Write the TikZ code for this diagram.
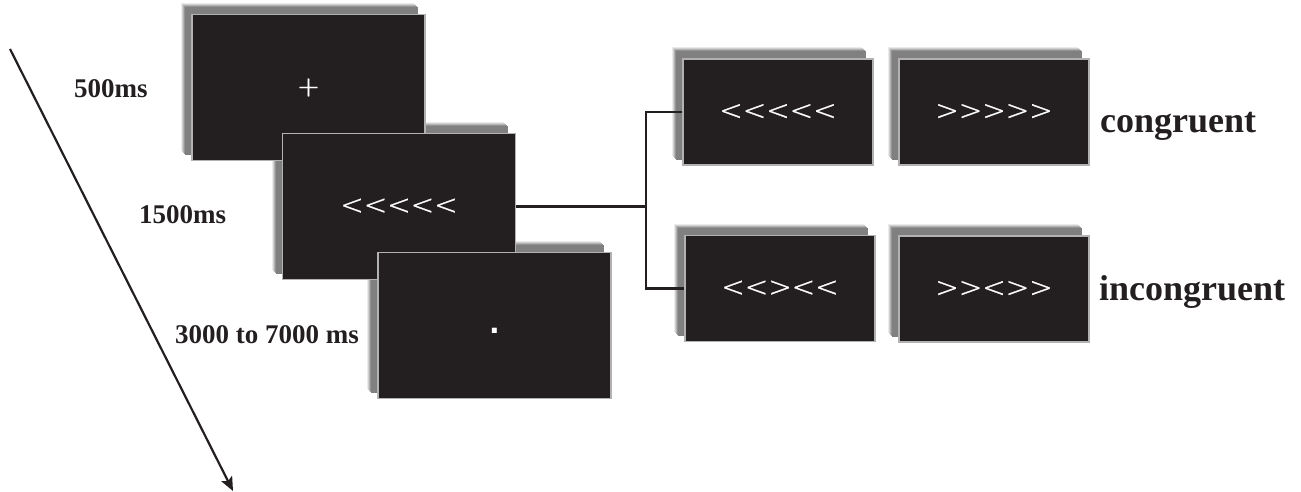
\documentclass[tikz,border=0pt]{standalone}
\usepackage{fontspec}
\setmainfont{Liberation Serif}
\newfontfamily\chev{DejaVu Sans ExtraLight}[FakeBold=1]
\newfontfamily\chevb{DejaVu Sans}
\usetikzlibrary{arrows.meta,backgrounds}
\definecolor{scr}{HTML}{231F20}
\definecolor{ink}{HTML}{231F20}
\begin{document}
\begin{tikzpicture}[x=1pt,y=-1pt,
  screen/.style={rectangle, fill=scr, draw=gray!60, line width=1.8pt, inner sep=0pt,
    text=white, font=\chev\fontsize{28}{30}\selectfont},
  bigscreen/.style={screen, minimum width=233pt, minimum height=146pt},
  smallscreen/.style={screen, minimum width=190pt, minimum height=106pt},
  timelbl/.style={anchor=base west, inner sep=0pt, text=ink, font=\bfseries\fontsize{27}{30}\selectfont},
  condlbl/.style={anchor=base west, inner sep=0pt, text=ink, font=\bfseries\fontsize{36}{40}\selectfont},
  wire/.style={draw=ink, line width=2.4pt},
]
\useasboundingbox (0,0) rectangle (1301,492);

% left screens
\node[bigscreen] (b1) at (308.5,87.5) {+};
\node[bigscreen] (b2) at (399,206.5) {<<<<<};
\node[bigscreen, font=\chevb\bfseries\fontsize{28}{30}\selectfont, text height=16pt, text depth=0pt] (b3) at (494.5,325.5) {.};

% right screens
\node[smallscreen] (bA) at (778,112) {<<<<<};
\node[smallscreen] (bB) at (994,112) {>>>>>};
\node[smallscreen] (bC) at (780,288.5) {<<><<};
\node[smallscreen] (bD) at (994,289) {>><>>};

% soft shadows behind all screens
\begin{pgfonlayer}{background}
  \foreach \n in {b1,b2,b3,bA,bB,bC,bD}{
    \foreach \o/\c in {10/8,9/18,8/30,7/42,6/50}{
      \fill[black!\c] ([shift={(-\o,-\o)}]\n.south west) rectangle ([shift={(-\o-2,-\o-1)}]\n.north east);
    }
  }
\end{pgfonlayer}

% connectors
\coordinate (j) at (646,206.5);
\draw[wire] (b2.east) -- (j);
\draw[wire] (bA.west) -| (j) |- (bC.west);

% time arrow
\coordinate (t0) at (10,49);
\coordinate (t1) at (233,491);
\draw[draw=ink, line width=2.2pt, -{Stealth[length=14pt,width=12pt,inset=3pt]}] (t0) -- (t1);

% labels
\node[timelbl] (l1) at (74,98) {500ms};
\node[timelbl] (l2) at (139,223) {1500ms};
\node[timelbl] (l3) at (175,343) {3000 to 7000 ms};
\node[condlbl] (c1) at (1100,132) {congruent};
\node[condlbl] (c2) at (1099,300) {incongruent};
\end{tikzpicture}
\end{document}
